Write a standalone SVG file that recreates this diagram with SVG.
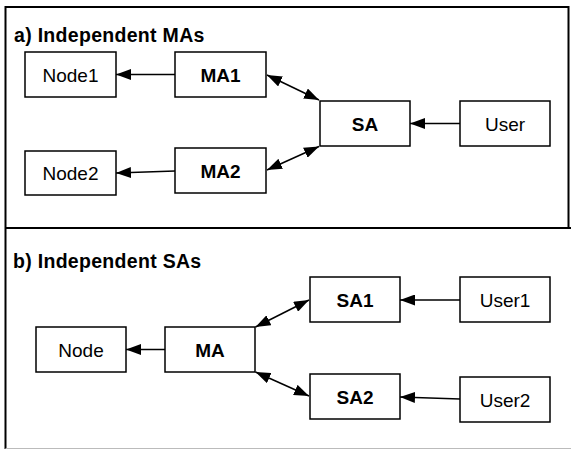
<svg xmlns="http://www.w3.org/2000/svg" width="571" height="449" viewBox="0 0 571 449">
<style>
.box{fill:#fff;stroke:#000;stroke-width:1.5}
.lbl{font-family:"Liberation Sans",Arial,sans-serif;font-size:19px;text-anchor:middle;fill:#000}
.b{font-weight:bold}
.title{font-family:"Liberation Sans",Arial,sans-serif;font-size:19.5px;font-weight:bold;fill:#000;letter-spacing:0.3px}
.frame{stroke:#000;stroke-width:2;fill:none}
.conn line{stroke:#000;stroke-width:1.5;fill:none}
.one{marker-end:url(#ah)}
.two{marker-end:url(#ah);marker-start:url(#ah)}
</style>
<defs>
<marker id="ah" markerUnits="userSpaceOnUse" markerWidth="15" markerHeight="11" refX="15" refY="5.5" orient="auto-start-reverse" viewBox="0 0 15 11">
<path d="M0,0 L15,5.5 L0,11 z" fill="#000"/>
</marker>
</defs>
<rect x="0" y="0" width="571" height="449" fill="#fff"/>
<g id="frame">
<path class="frame" d="M5.5,449 V7 H568.5 V228"/>
<line x1="5.5" y1="228" x2="571" y2="228" stroke="#000" stroke-width="2"/>
<line x1="5.5" y1="448.5" x2="571" y2="448.5" stroke="#bbb" stroke-width="1"/>
<text class="title" x="14" y="42">a) Independent MAs</text>
<text class="title" x="13" y="268">b) Independent SAs</text>
</g>
<g class="conn" id="connectors">
<line class="one" x1="175" y1="74.5" x2="116" y2="74.5"/>
<line class="one" x1="175" y1="171" x2="116" y2="173"/>
<line class="two" x1="267" y1="75" x2="319" y2="100"/>
<line class="two" x1="267" y1="170" x2="319" y2="146.5"/>
<line class="one" x1="460" y1="123.5" x2="410" y2="123.5"/>
<line class="one" x1="165" y1="349.5" x2="126" y2="349.5"/>
<line class="two" x1="255.5" y1="327" x2="309" y2="300"/>
<line class="two" x1="255.5" y1="372" x2="309" y2="396"/>
<line class="one" x1="460" y1="300" x2="400" y2="300"/>
<line class="one" x1="460" y1="399" x2="400" y2="397"/>
</g>
<g id="node1"><rect class="box" x="25" y="52" width="91" height="45"/><text class="lbl" x="70.5" y="81.5">Node1</text></g>
<g id="ma1"><rect class="box" x="175" y="52" width="91" height="45"/><text class="lbl b" x="220.5" y="81.5">MA1</text></g>
<g id="node2"><rect class="box" x="25" y="151" width="91" height="44"/><text class="lbl" x="70.5" y="180">Node2</text></g>
<g id="ma2"><rect class="box" x="175" y="148" width="91" height="45"/><text class="lbl b" x="220.5" y="177.5">MA2</text></g>
<g id="sa"><rect class="box" x="320" y="101" width="90" height="45"/><text class="lbl b" x="365" y="130.5">SA</text></g>
<g id="user"><rect class="box" x="460" y="101" width="90" height="45"/><text class="lbl" x="505" y="130.5">User</text></g>
<g id="node"><rect class="box" x="36" y="327" width="90" height="45"/><text class="lbl" x="81" y="356.5">Node</text></g>
<g id="ma"><rect class="box" x="165" y="327" width="90" height="45"/><text class="lbl b" x="210" y="356.5">MA</text></g>
<g id="sa1"><rect class="box" x="310" y="277" width="90" height="45"/><text class="lbl b" x="355" y="306.5">SA1</text></g>
<g id="user1"><rect class="box" x="460" y="277" width="90" height="45"/><text class="lbl" x="505" y="306.5">User1</text></g>
<g id="sa2"><rect class="box" x="310" y="374" width="90" height="45"/><text class="lbl b" x="355" y="403.5">SA2</text></g>
<g id="user2"><rect class="box" x="460" y="377" width="90" height="45"/><text class="lbl" x="505" y="406.5">User2</text></g>
</svg>
